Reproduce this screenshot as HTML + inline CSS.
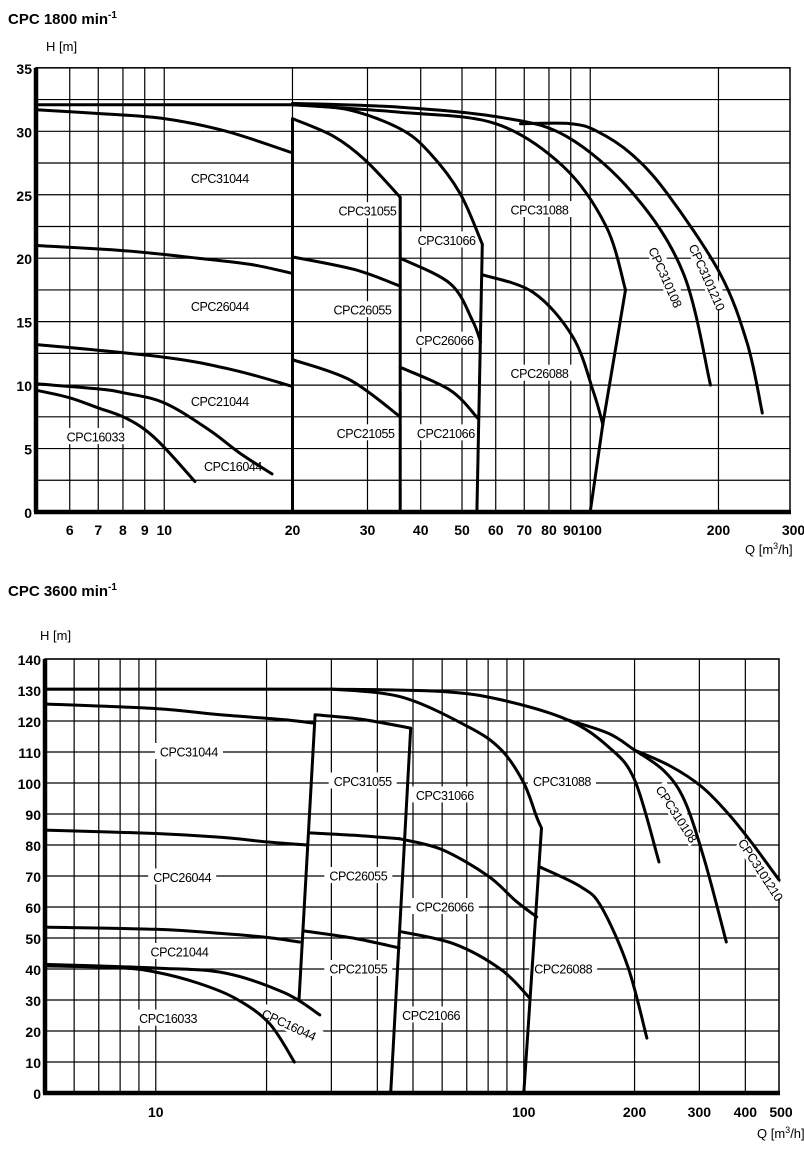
<!DOCTYPE html>
<html><head><meta charset="utf-8">
<style>
body{margin:0;background:#fff;}
svg{display:block;font-family:"Liberation Sans",Arial,sans-serif;}
.lbl{font-size:12.5px;letter-spacing:-0.4px;}
.tick{font-size:14px;font-weight:bold;}
</style></head>
<body>
<svg id="chart" width="804" height="1152" viewBox="0 0 804 1152" xmlns="http://www.w3.org/2000/svg">
<rect width="804" height="1152" fill="#fff"/>
<text x="8" y="24" font-size="15" font-weight="bold">CPC  1800 min<tspan dy="-6" font-size="10">-1</tspan></text>
<text x="46" y="51" font-size="13">H [m]</text>
<text x="745" y="554" font-size="13">Q [m<tspan dy="-5" font-size="9">3</tspan><tspan dy="5">/h]</tspan></text>
<text x="8" y="596" font-size="15" font-weight="bold">CPC  3600 min<tspan dy="-6" font-size="10">-1</tspan></text>
<text x="40" y="640" font-size="13">H [m]</text>
<text x="757" y="1138" font-size="13">Q [m<tspan dy="-5" font-size="9">3</tspan><tspan dy="5">/h]</tspan></text>
<g id="top"></g>
<g id="bottom"></g>
</svg>
<script>
// ===== Top chart (1800 min-1) data =====
const topXTicks = [6,7,8,9,10,20,30,40,50,60,70,80,90,100,200,300];
const topXGrid = [6,7,8,9,10,20,30,40,50,60,70,80,90,100,200];
const topYTicks = [0,5,10,15,20,25,30,35];
const topYGrid = [0,2.5,5,7.5,10,12.5,15,17.5,20,22.5,25,27.5,30,32.5,35];
const t31044 = [[5,31.7],[7,31.4],[10,31.0],[14,30.0],[20,28.3]];
const tTopFlat = [[5,32.1],[12,32.1],[20,32.1]];
const t31055 = [[20,31.0],[25,29.6],[29.7,27.7],[35.8,24.8]];
const t31066 = [[20,32.1],[27,31.7],[35.8,30.2],[42,28.3],[49.5,25.1],[55.8,21.1]];
const t31088 = [[20,32.1],[35.8,31.5],[60,30.6],[86.6,27.2],[109,22.5],[121,17.5]];
const t310108 = [[20,32.2],[35.8,31.9],[61.5,31.1],[88,29.6],[126,25.1],[165.5,18.8],[191.6,10.0]];
const t3101210 = [[68.6,30.6],[90,30.6],[103.8,30.0],[125,28.2],[151.6,25.1],[201.6,18.8],[233.6,13.3],[253.5,7.8]];
const t26044 = [[5,21.0],[8,20.6],[12,20.0],[16,19.5],[20,18.8]];
const t26055 = [[20,20.1],[28,19.1],[35.8,17.8]];
const t26066 = [[35.8,20.0],[46.9,18.0],[52.9,15.1],[55.3,13.4]];
const t26088 = [[55.8,18.7],[73.5,17.3],[91,13.8],[101.9,9.4],[107,6.9]];
const t21044 = [[5,13.2],[10,12.2],[14.5,11.2],[20,9.9]];
const t21055 = [[20,12.0],[27.3,10.4],[35.8,7.5]];
const t21066 = [[35.8,11.4],[46.9,9.6],[54.4,7.4]];
const t16044 = [[5,10.1],[7,9.7],[8,9.4],[10,8.6],[12.7,6.5],[15.1,4.6],[17.9,3.0]];
const t16033 = [[5,9.6],[6,9.0],[7,8.2],[8,7.5],[9,6.5],[10,5.1],[11.8,2.4]];
const tLineA = [[20,0],[20,31.0]];
const tLineB = [[35.8,0],[35.8,24.8]];
const tLineC = [[54.2,0],[55.8,21.1]];
const tLineD = [[100,0],[107,6.9],[121,17.5]];
const topLabels = ["CPC31044","CPC31055","CPC31066","CPC31088","CPC26044","CPC26055","CPC26066","CPC26088","CPC21044","CPC21055","CPC21066","CPC16033","CPC16044","CPC310108","CPC3101210"];
const topLabelPos = [[13.5,26.3],[30,23.7],[46,21.4],[76,23.8],[13.5,16.2],[29.2,15.9],[45.5,13.5],[76,10.9],[13.5,8.7],[29.7,6.2],[45.8,6.2],[6.9,5.9],[14.5,3.6],[150,18.5],[188,18.5]];
const topLabelRot = [0,0,0,0,0,0,0,0,0,0,0,0,0,66,66];

// ===== Bottom chart (3600 min-1) data =====
const botXTicks = [10,100,200,300,400,500];
const botXGrid = [6,7,8,9,10,20,30,40,50,60,70,80,90,100,200,300,400];
const botYTicks = [0,10,20,30,40,50,60,70,80,90,100,110,120,130,140];
const b31044 = [[5,125.5],[10,124],[15,122],[22,120.5],[27,119.3]];
const bTopFlat = [[5,130.3],[20,130.3],[30,130.3]];
const b31055 = [[27.1,122],[36,120.6],[49.3,117.7]];
const b31066 = [[30,130.3],[46.6,127.7],[71,118],[87,110.6],[100,100],[108.4,89],[111.7,85.5]];
const b31088 = [[30,130.3],[60,129.5],[87,126.8],[132,120.3],[170,111.6],[200,101],[233,74.5]];
const b310108 = [[132,120.3],[170,116],[200,110.6],[240,104],[273,94.5],[310,75],[355,48.7]];
const b3101210 = [[200,110.6],[250,105.5],[305,98.7],[360,90],[417,80.6],[494,68.7]];
const b26044 = [[5,84.8],[10,83.7],[15,82.5],[20,81.0],[25.7,80.0]];
const b26055 = [[26.2,83.9],[36,83.0],[46,82.0]];
const b26066 = [[46,82.0],[60,78.5],[80,70],[95,62],[108.4,56.8]];
const b26088 = [[110.6,72.9],[143,66.5],[162.5,60],[192,40.6],[216,17.7]];
const b21044 = [[5,53.5],[10,52.8],[15,51.5],[20,50.2],[24.6,48.7]];
const b21055 = [[25.2,52.3],[35,49.8],[45.8,46.8]];
const b21066 = [[46.6,52],[65,48],[87,39.7],[103.8,30.6]];
const b16044 = [[5,41.5],[10,40.3],[15.4,38.7],[22.4,32.3],[27.9,25.2]];
const b16033 = [[5,41.0],[8,40.4],[10,39.0],[13,35.5],[16.4,30.6],[20.3,22.6],[23.8,10.0]];
const bLineA = [[24.5,30],[27.1,122]];
const bLineB = [[43.5,0],[49.3,117.7]];
const bLineC = [[100,0],[111.7,85.5]];
const botLabels = ["CPC31044","CPC31055","CPC31066","CPC31088","CPC26044","CPC26055","CPC26066","CPC26088","CPC21044","CPC21055","CPC21066","CPC16033","CPC16044","CPC310108","CPC3101210"];
const botLabelPos = [[12.3,110],[36.5,100.5],[61,96],[127,100.5],[11.8,69.5],[35.5,70],[61,60],[128,40],[11.6,45.5],[35.5,40],[56,25],[10.8,24],[23,22],[260,90],[440,72]];
const botLabelRot = [0,0,0,0,0,0,0,0,0,0,0,0,25,57,57];

const NS = "http://www.w3.org/2000/svg";
function mk(tag, attrs, parent){ const e=document.createElementNS(NS,tag); for(const k in attrs) e.setAttribute(k,attrs[k]); parent.appendChild(e); return e; }

function makeAxes(cfg){
  const xs = q => cfg.left + (Math.log10(q) - Math.log10(cfg.qmin)) * cfg.dec;
  const ys = h => cfg.bottom - h * cfg.hpx;
  return {xs, ys};
}
function pathD(pts, ax, smooth){
  const P = pts.map(p=>[ax.xs(p[0]), ax.ys(p[1])]);
  let d = "M"+P[0][0].toFixed(1)+","+P[0][1].toFixed(1);
  if(!smooth || P.length<3){ for(let i=1;i<P.length;i++) d+=" L"+P[i][0].toFixed(1)+","+P[i][1].toFixed(1); return d; }
  for(let i=0;i<P.length-1;i++){
    const p0=P[Math.max(0,i-1)], p1=P[i], p2=P[i+1], p3=P[Math.min(P.length-1,i+2)];
    const c1=[p1[0]+(p2[0]-p0[0])/6, p1[1]+(p2[1]-p0[1])/6];
    const c2=[p2[0]-(p3[0]-p1[0])/6, p2[1]-(p3[1]-p1[1])/6];
    d+=` C${c1[0].toFixed(1)},${c1[1].toFixed(1)} ${c2[0].toFixed(1)},${c2[1].toFixed(1)} ${p2[0].toFixed(1)},${p2[1].toFixed(1)}`;
  }
  return d;
}

function drawChart(g, cfg, ax, xGrid, yGrid, xTicks, yTicks, curves, lines, labels, pos, rot, prefix){
  const right = cfg.right, top = ax.ys(cfg.hmax);
  xGrid.forEach(q=>{
    const l = mk("line",{x1:ax.xs(q),x2:ax.xs(q),y1:top,y2:cfg.bottom,stroke:"#000","stroke-width":1.2},g);
    
    
  });
  yGrid.forEach(h=>{
    const l = mk("line",{x1:cfg.left,x2:right,y1:ax.ys(h),y2:ax.ys(h),stroke:"#000","stroke-width":1.2},g);
    
    
  });
  const fr = mk("rect",{x:cfg.left,y:top,width:right-cfg.left,height:cfg.bottom-top,fill:"none",stroke:"#000","stroke-width":1.5},g);
  
  
  labels.forEach((t,i)=>{
    const x=ax.xs(pos[i][0]), y=ax.ys(pos[i][1]);
    const grp = mk("g",{transform:`translate(${x.toFixed(1)},${y.toFixed(1)}) rotate(${rot[i]||0})`},g);
    
    
    mk("rect",{x:-34,y:-9,width:68,height:16,fill:"#fff"},grp);
    const tx = mk("text",{x:0,y:4.5,"text-anchor":"middle",class:"lbl"},grp);
    tx.textContent = t;
  });
  curves.forEach(c=>{
    const p = mk("path",{d:pathD(c[1],ax,true),fill:"none",stroke:"#000","stroke-width":3,"stroke-linecap":"round","stroke-linejoin":"round"},g);
    
    
  });
  lines.forEach(c=>{
    const p = mk("path",{d:pathD(c[1],ax,false),fill:"none",stroke:"#000","stroke-width":3,"stroke-linejoin":"round"},g);
    
    
  });
  const xa = mk("line",{x1:cfg.left-2,x2:right+1,y1:cfg.bottom,y2:cfg.bottom,stroke:"#000","stroke-width":4.5},g);
  
  
  const ya = mk("line",{x1:cfg.left,x2:cfg.left,y1:top,y2:cfg.bottom,stroke:"#000","stroke-width":4.5},g);
  
  
  xTicks.forEach(q=>{
    const t = mk("text",{x:ax.xs(q),y:cfg.bottom+cfg.xlabOff,"text-anchor":"middle",class:"tick"},g);
    
    
    t.textContent = q;
  });
  yTicks.forEach(h=>{
    const t = mk("text",{x:cfg.left-4,y:ax.ys(h)+cfg.ylabOff,"text-anchor":"end",class:"tick"},g);
    
    
    t.textContent = h;
  });
}

const topCfg = {left:36, right:790, bottom:512, qmin:5, dec:426, hpx:12.69, hmax:35, xlabOff:23, ylabOff:6};
const botCfg = {left:45, right:779, bottom:1093, qmin:5, dec:368, hpx:3.1, hmax:140, xlabOff:24, ylabOff:6};
const topAx = makeAxes(topCfg), botAx = makeAxes(botCfg);

drawChart(document.getElementById("top"), topCfg, topAx, topXGrid, topYGrid, topXTicks, topYTicks,
  [["31044",t31044],["top-flat",tTopFlat],["31055",t31055],["31066",t31066],["31088",t31088],["310108",t310108],["3101210",t3101210],
   ["26044",t26044],["26055",t26055],["26066",t26066],["26088",t26088],["21044",t21044],["21055",t21055],["21066",t21066],["16044",t16044],["16033",t16033]],
  [["a",tLineA],["b",tLineB],["c",tLineC],["d",tLineD]],
  topLabels, topLabelPos, topLabelRot, "top");

drawChart(document.getElementById("bottom"), botCfg, botAx, botXGrid, botYTicks, botXTicks, botYTicks,
  [["31044",b31044],["top-flat",bTopFlat],["31055",b31055],["31066",b31066],["31088",b31088],["310108",b310108],["3101210",b3101210],
   ["26044",b26044],["26055",b26055],["26066",b26066],["26088",b26088],["21044",b21044],["21055",b21055],["21066",b21066],["16044",b16044],["16033",b16033]],
  [["a",bLineA],["b",bLineB],["c",bLineC]],
  botLabels, botLabelPos, botLabelRot, "bottom");
</script>
</body></html>
